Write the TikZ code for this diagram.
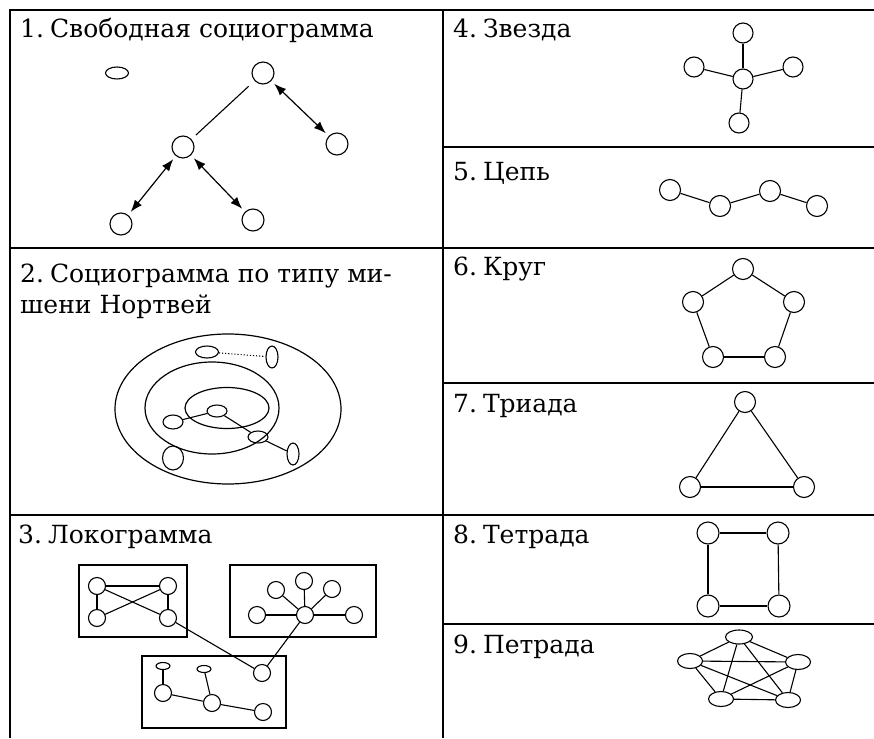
\documentclass[tikz,border=0pt]{standalone}
\usepackage{fontspec}
\setmainfont{DejaVu Serif}
\usetikzlibrary{shapes.geometric,arrows.meta}
\newcommand{\nsp}{\hspace{0.24em}}
\begin{document}
\begin{tikzpicture}[x=1pt,y=-1pt,
  nd/.style={circle,draw,line width=1.1pt,minimum size=#1,inner sep=0pt},
  nd/.default=20pt,
  ov/.style 2 args={ellipse,draw,line width=1.1pt,minimum width=#1,minimum height=#2,inner sep=0pt},
  ring/.style 2 args={ellipse,draw,line width=1.2pt,minimum width=#1,minimum height=#2,inner sep=0pt},
  ttl/.style={anchor=base west,inner sep=0pt,font=\fontsize{25}{31}\selectfont},
  ln/.style={line width=1.1pt},
  thk/.style={line width=2pt},
  frm/.style={line width=1.8pt},
  frt/.style={line width=1.4pt},
  tip/.tip={Latex[length=12pt,width=9pt]},
  dbl/.style={line width=1.2pt,tip-tip,shorten <=4pt,shorten >=4pt}]
\useasboundingbox (0,0) rectangle (874,738);
\fill[white] (0,0) rectangle (874,738);
% frame
\draw[frm] (10,738) -- (10,10) -- (874,10);
\draw[frm] (443,10) -- (443,738);
\draw[frm] (10,248) -- (874,248);
\draw[frm] (10,515) -- (874,515);
\draw[frt] (443,147) -- (874,147);
\draw[frm] (443,383) -- (874,383);
\draw[frt] (443,624) -- (874,624);
% titles
\node[ttl] (t1) at (20,38) {1.\nsp Свободная социограмма};
\node[ttl] (t2a) at (20,282) {2.\nsp Социограмма по типу ми-};
\node[ttl] (t2b) at (20,313) {шени Нортвей};
\node[ttl] (t3) at (18,543) {3.\nsp Локограмма};
\node[ttl] (t4) at (453,38) {4.\nsp Звезда};
\node[ttl] (t5) at (453,180) {5.\nsp Цепь};
\node[ttl] (t6) at (453,275) {6.\nsp Круг};
\node[ttl] (t7) at (453,412) {7.\nsp Триада};
\node[ttl] (t8) at (453,543) {8.\nsp Тетрада};
\node[ttl] (t9) at (453,653) {9.\nsp Петрада};
% panel 1
\node[ov={23pt}{12pt}] (p1a) at (117,73) {};
\node[nd=22pt] (p1t) at (263,73) {};
\node[nd=22pt] (p1r) at (337,144) {};
\node[nd=22pt] (p1m) at (183,147) {};
\node[nd=22pt] (p1bl) at (121,224) {};
\node[nd=22pt] (p1br) at (253,220) {};
\draw[ln,shorten <=8pt,shorten >=6pt] (p1t) -- (p1m);
\draw[dbl] (p1t) -- (p1r);
\draw[dbl] (p1m) -- (p1bl);
\draw[dbl] (p1m) -- (p1br);
% panel 2
\node[ring={226pt}{150pt}] (r1) at (228,409) {};
\node[ring={134pt}{92pt}] (r2) at (212,408) {};
\node[ring={84pt}{41pt}] (r3) at (227,408) {};
\node[ov={23pt}{12pt}] (q1) at (207,352) {};
\node[ov={12pt}{22pt}] (q2) at (272,357) {};
\node[ov={20pt}{12pt}] (q3) at (217,411) {};
\node[ov={20pt}{14pt}] (q4) at (173,422) {};
\node[ov={20pt}{12pt}] (q5) at (258,437) {};
\node[ov={12pt}{22pt}] (q6) at (293,454) {};
\node[ov={21pt}{24pt}] (q7) at (173,458) {};
\draw[ln,dotted] (q1) -- (q2);
\draw[ln] (q3) -- (q4);
\draw[ln] (q3) -- (q5);
\draw[ln] (q5) -- (q6);
% panel 3
\draw[ln] (79,565) rectangle (187,637);
\draw[ln] (230,565) rectangle (376,637);
\draw[ln] (142,656) rectangle (286,728);
\node[nd=17pt] (a1) at (97,586) {};
\node[nd=17pt] (a2) at (168,586) {};
\node[nd=17pt] (a3) at (97,618) {};
\node[nd=17pt] (a4) at (168,618) {};
\draw[ln] (a1) -- (a2);
\draw[ln] (a1) -- (a3);
\draw[ln] (a2) -- (a4);
\draw[ln] (a1) -- (a4);
\draw[ln] (a3) -- (a2);
\node[nd=17pt] (b0) at (305,615) {};
\node[nd=17pt] (bl) at (257,615) {};
\node[nd=17pt] (br) at (354,615) {};
\node[nd=17pt] (b1) at (276,590) {};
\node[nd=17pt] (b2) at (304,581) {};
\node[nd=17pt] (b3) at (332,589) {};
\draw[thk] (b0) -- (bl);
\draw[thk] (b0) -- (br);
\draw[ln] (b0) -- (b1);
\draw[ln] (b0) -- (b2);
\draw[ln] (b0) -- (b3);
\node[nd=17pt] (c0) at (262,673) {};
\node[ov={14pt}{7pt}] (e1) at (163,666) {};
\node[ov={14pt}{7pt}] (e2) at (204,669) {};
\node[nd=17pt] (c1) at (163,693) {};
\node[nd=17pt] (c2) at (212,703) {};
\node[nd=17pt] (c3) at (263,712) {};
\draw[ln] (a4) -- (c0);
\draw[ln] (b0) -- (c0);
\draw[ln] (e1) -- (c1);
\draw[ln] (e2) -- (c2);
\draw[ln] (c1) -- (c2);
\draw[ln] (c2) -- (c3);
% panel 4
\node[nd] (s0) at (743,79) {};
\node[nd] (s1) at (743,33) {};
\node[nd] (s2) at (694,67) {};
\node[nd] (s3) at (793,67) {};
\node[nd] (s4) at (739,123) {};
\foreach \k in {s1,s2,s3,s4} \draw[ln] (s0) -- (\k);
% panel 5
\node[nd=21pt] (h1) at (670,190) {};
\node[nd=21pt] (h2) at (720,206) {};
\node[nd=21pt] (h3) at (770,191) {};
\node[nd=21pt] (h4) at (817,206) {};
\draw[ln] (h1) -- (h2);
\draw[ln] (h2) -- (h3);
\draw[ln] (h3) -- (h4);
% panel 6
\node[nd=21pt] (k1) at (743,269) {};
\node[nd=21pt] (k2) at (794,302) {};
\node[nd=21pt] (k3) at (775,357) {};
\node[nd=21pt] (k4) at (713,357) {};
\node[nd=21pt] (k5) at (693,302) {};
\draw[ln] (k1) -- (k2);
\draw[ln] (k2) -- (k3);
\draw[ln] (k3) -- (k4);
\draw[ln] (k4) -- (k5);
\draw[ln] (k5) -- (k1);
% panel 7
\node[nd=21pt] (g1) at (745,402) {};
\node[nd=21pt] (g2) at (690,487) {};
\node[nd=21pt] (g3) at (804,487) {};
\draw[ln] (g1) -- (g2);
\draw[ln] (g2) -- (g3);
\draw[ln] (g3) -- (g1);
% panel 8
\node[nd=22pt] (m1) at (708,533) {};
\node[nd=22pt] (m2) at (778,533) {};
\node[nd=22pt] (m3) at (708,606) {};
\node[nd=22pt] (m4) at (779,606) {};
\draw[thk] (m1) -- (m2);
\draw[thk] (m3) -- (m4);
\draw[ln] (m1) -- (m3);
\draw[ln] (m2) -- (m4);
% panel 9
\node[ov={27pt}{14pt}] (v1) at (739,637) {};
\node[ov={25pt}{15pt}] (v2) at (798,662) {};
\node[ov={25pt}{15pt}] (v3) at (788,700) {};
\node[ov={25pt}{15pt}] (v4) at (721,699) {};
\node[ov={25pt}{15pt}] (v5) at (690,661) {};
\draw[ln] (v1) -- (v2);
\draw[ln] (v1) -- (v3);
\draw[ln] (v1) -- (v4);
\draw[ln] (v1) -- (v5);
\draw[ln] (v2) -- (v3);
\draw[ln] (v2) -- (v4);
\draw[ln] (v2) -- (v5);
\draw[ln] (v3) -- (v4);
\draw[ln] (v3) -- (v5);
\draw[ln] (v4) -- (v5);
\end{tikzpicture}
\end{document}
